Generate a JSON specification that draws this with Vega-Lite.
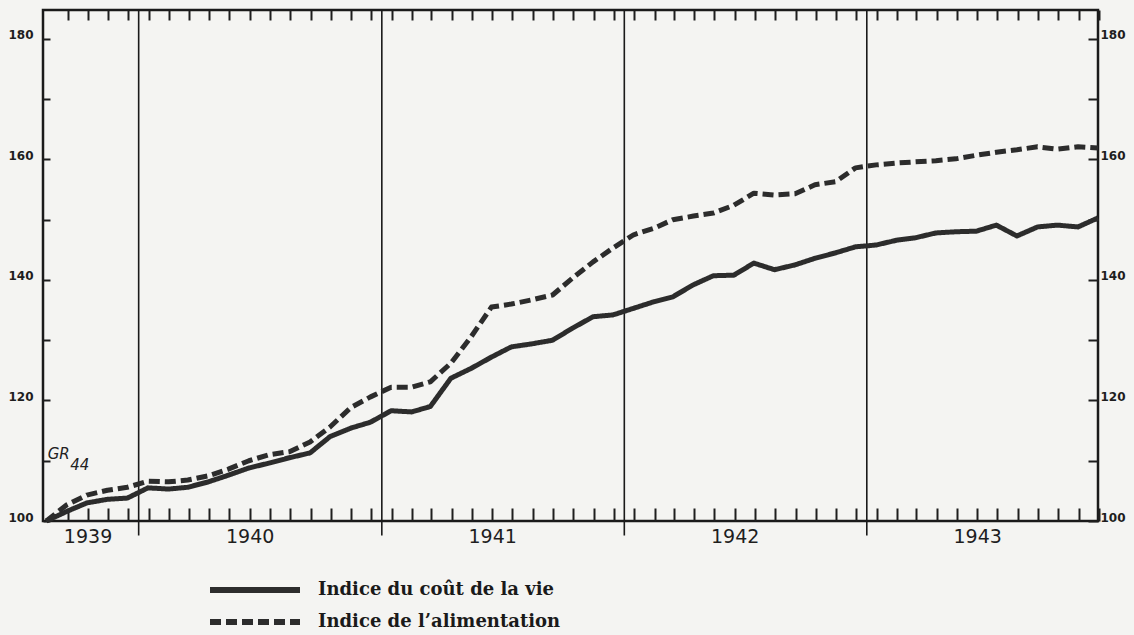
{
  "$schema": "https://vega.github.io/schema/vega-lite/v6.json",
  "width": 1055,
  "height": 511,
  "autosize": {"type": "none"},
  "padding": {"left": 43, "top": 10, "right": 36, "bottom": 114},
  "background": "#f4f4f2",
  "config": {
    "view": {"stroke": "#1a1a1a", "strokeWidth": 2.5},
    "axis": {"grid": false, "domain": false, "title": null, "tickColor": "#1e1e1e", "tickWidth": 2, "labelColor": "#1e1e1e"}
  },
  "data": {
    "values": [
      {"d": "1939-08-15", "cout": 100, "alim": 100},
      {"d": "1939-09-15", "cout": 101.6, "alim": 102.7},
      {"d": "1939-10-15", "cout": 103, "alim": 104.3},
      {"d": "1939-11-15", "cout": 103.6, "alim": 105.1},
      {"d": "1939-12-15", "cout": 103.8, "alim": 105.6},
      {"d": "1940-01-15", "cout": 105.5, "alim": 106.6},
      {"d": "1940-02-15", "cout": 105.3, "alim": 106.5},
      {"d": "1940-03-15", "cout": 105.6, "alim": 106.8},
      {"d": "1940-04-15", "cout": 106.5, "alim": 107.5},
      {"d": "1940-05-15", "cout": 107.6, "alim": 108.6},
      {"d": "1940-06-15", "cout": 108.8, "alim": 110},
      {"d": "1940-07-15", "cout": 109.6, "alim": 111},
      {"d": "1940-08-15", "cout": 110.5, "alim": 111.5},
      {"d": "1940-09-15", "cout": 111.3, "alim": 113.1},
      {"d": "1940-10-15", "cout": 114, "alim": 115.6},
      {"d": "1940-11-15", "cout": 115.4, "alim": 118.8},
      {"d": "1940-12-15", "cout": 116.4, "alim": 120.6},
      {"d": "1941-01-15", "cout": 118.3, "alim": 122.2},
      {"d": "1941-02-15", "cout": 118.1, "alim": 122.2},
      {"d": "1941-03-15", "cout": 119, "alim": 123.1},
      {"d": "1941-04-15", "cout": 123.7, "alim": 126.2},
      {"d": "1941-05-15", "cout": 125.3, "alim": 130.5},
      {"d": "1941-06-15", "cout": 127.2, "alim": 135.5},
      {"d": "1941-07-15", "cout": 128.9, "alim": 136},
      {"d": "1941-08-15", "cout": 129.4, "alim": 136.7},
      {"d": "1941-09-15", "cout": 130, "alim": 137.5},
      {"d": "1941-10-15", "cout": 132, "alim": 140.3},
      {"d": "1941-11-15", "cout": 133.9, "alim": 143},
      {"d": "1941-12-15", "cout": 134.2, "alim": 145.3},
      {"d": "1942-01-15", "cout": 135.3, "alim": 147.5},
      {"d": "1942-02-15", "cout": 136.4, "alim": 148.6},
      {"d": "1942-03-15", "cout": 137.2, "alim": 150},
      {"d": "1942-04-15", "cout": 139.2, "alim": 150.6},
      {"d": "1942-05-15", "cout": 140.7, "alim": 151.1},
      {"d": "1942-06-15", "cout": 140.8, "alim": 152.4},
      {"d": "1942-07-15", "cout": 142.8, "alim": 154.4},
      {"d": "1942-08-15", "cout": 141.7, "alim": 154.1},
      {"d": "1942-09-15", "cout": 142.5, "alim": 154.3},
      {"d": "1942-10-15", "cout": 143.6, "alim": 155.8},
      {"d": "1942-11-15", "cout": 144.5, "alim": 156.3},
      {"d": "1942-12-15", "cout": 145.5, "alim": 158.6},
      {"d": "1943-01-15", "cout": 145.8, "alim": 159.1},
      {"d": "1943-02-15", "cout": 146.6, "alim": 159.4},
      {"d": "1943-03-15", "cout": 147, "alim": 159.6},
      {"d": "1943-04-15", "cout": 147.8, "alim": 159.8},
      {"d": "1943-05-15", "cout": 148, "alim": 160.1},
      {"d": "1943-06-15", "cout": 148.1, "alim": 160.7},
      {"d": "1943-07-15", "cout": 149.1, "alim": 161.2},
      {"d": "1943-08-15", "cout": 147.3, "alim": 161.6},
      {"d": "1943-09-15", "cout": 148.8, "alim": 162.1},
      {"d": "1943-10-15", "cout": 149.1, "alim": 161.7},
      {"d": "1943-11-15", "cout": 148.8, "alim": 162.1},
      {"d": "1943-12-15", "cout": 150.3, "alim": 161.9}
    ]
  },
  "layer": [
    {
      "data": {"values": [{"b": "1940-01-01"}, {"b": "1941-01-01"}, {"b": "1942-01-01"}, {"b": "1943-01-01"}]},
      "mark": {"type": "rule", "stroke": "#1a1a1a", "strokeWidth": 1.6},
      "encoding": {
        "x": {"field": "b", "type": "temporal", "axis": null,
              "scale": {"type": "utc", "domain": [{"year": 1939, "month": 8, "date": 10, "utc": true}, {"year": 1943, "month": 12, "date": 15, "utc": true}]}},
        "y": {"datum": 184.8, "type": "quantitative", "axis": null, "scale": {"domain": [100, 184.8], "nice": false, "zero": false}},
        "y2": {"datum": 97.6}
      }
    },
    {
      "mark": {"type": "line", "strokeWidth": 5, "color": "#2c2c2c", "strokeJoin": "round", "strokeCap": "butt"},
      "encoding": {
        "x": {"field": "d", "type": "temporal",
              "scale": {"type": "utc", "domain": [{"year": 1939, "month": 8, "date": 10, "utc": true}, {"year": 1943, "month": 12, "date": 15, "utc": true}]},
              "axis": {"orient": "bottom", "tickCount": {"interval": "month", "step": 1}, "tickOffset": 10, "tickSize": -13,
                       "labelExpr": "(utcmonth(datum.value) == 5 || (utcyear(datum.value) == 1939 && utcmonth(datum.value) == 9)) ? utcFormat(datum.value, '%Y') : ''",
                       "labelPadding": 19, "labelFont": "DejaVu Sans", "labelFontSize": 19, "labelOverlap": false, "labelFlush": false, "labelBound": false}},
        "y": {"field": "cout", "type": "quantitative",
              "scale": {"domain": [100, 184.8], "nice": false, "zero": false},
              "axis": {"orient": "left", "values": [100, 110, 120, 130, 140, 150, 160, 170, 180], "tickSize": -7,
                       "labelExpr": "datum.value % 20 == 0 ? datum.label : ''", "labelPadding": 17,
                       "labelFont": "DejaVu Sans", "labelFontWeight": "bold", "labelFontSize": 12, "labelBaseline": "alphabetic"}},
        "strokeDash": {"datum": "Indice du coût de la vie", "type": "nominal",
                       "scale": {"domain": ["Indice du coût de la vie", "Indice de l’alimentation"], "range": [[1, 0], [11, 5]]},
                       "legend": {"orient": "none", "legendX": 200, "legendY": 568, "title": null, "direction": "vertical",
                                  "symbolType": "M-5,0H5", "symbolSize": 324, "symbolStrokeWidth": 6, "symbolStrokeColor": "#2c2c2c",
                                  "labelFont": "DejaVu Serif", "labelFontWeight": "bold", "labelFontSize": 18, "labelColor": "#1a1a1a",
                                  "labelOffset": 51, "rowPadding": 8, "labelLimit": 500,
                                  "encode": {"symbols": {"update": {"strokeDash": [{"test": "indexOf(datum.value, 'alim') >= 0", "value": [19, 4]}, {"value": [1, 0]}]}}}}}
      }
    },
    {
      "mark": {"type": "line", "strokeWidth": 5, "color": "#2c2c2c", "strokeJoin": "round", "strokeCap": "butt"},
      "encoding": {
        "x": {"field": "d", "type": "temporal",
              "scale": {"type": "utc", "domain": [{"year": 1939, "month": 8, "date": 10, "utc": true}, {"year": 1943, "month": 12, "date": 15, "utc": true}]},
              "axis": {"orient": "top", "tickCount": {"interval": "month", "step": 1}, "tickOffset": 10, "tickSize": -10, "labels": false}},
        "y": {"field": "alim", "type": "quantitative",
              "scale": {"domain": [100, 184.8], "nice": false, "zero": false},
              "axis": {"orient": "right", "values": [100, 110, 120, 130, 140, 150, 160, 170, 180], "tickSize": -10,
                       "labelExpr": "datum.value % 20 == 0 ? datum.label : ''", "labelPadding": 12,
                       "labelFont": "DejaVu Sans", "labelFontWeight": "bold", "labelFontSize": 12, "labelBaseline": "alphabetic"}},
        "strokeDash": {"datum": "Indice de l’alimentation", "type": "nominal"}
      }
    },
    {
      "data": {"values": [{"note": "GR"}]},
      "mark": {"type": "text", "align": "left", "baseline": "alphabetic", "font": "DejaVu Sans", "fontSize": 15, "fontStyle": "italic", "color": "#222"},
      "encoding": {
        "text": {"field": "note"},
        "x": {"datum": {"year": 1939, "month": 8, "date": 17, "utc": true}, "type": "temporal", "axis": null},
        "y": {"datum": 110.3, "type": "quantitative", "axis": null}
      }
    },
    {
      "data": {"values": [{"note": "44"}]},
      "mark": {"type": "text", "align": "left", "baseline": "alphabetic", "font": "DejaVu Sans", "fontSize": 15, "fontStyle": "italic", "color": "#222"},
      "encoding": {
        "text": {"field": "note"},
        "x": {"datum": {"year": 1939, "month": 9, "date": 20, "utc": true}, "type": "temporal", "axis": null},
        "y": {"datum": 108.5, "type": "quantitative", "axis": null}
      }
    }
  ],
  "resolve": {"axis": {"x": "independent", "y": "independent"}}
}
